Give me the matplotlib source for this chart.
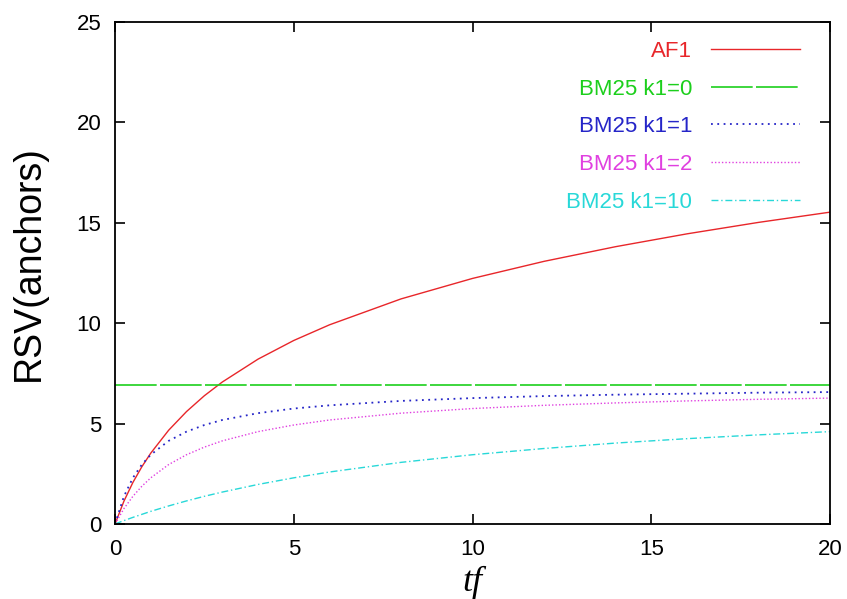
import numpy as np
import matplotlib
matplotlib.use("Agg")
import matplotlib.pyplot as plt

# term frequency samples and the RSV of each weighting function
tf = [0, 0.25, 0.5, 0.75, 1, 1.5, 2, 2.5, 3, 4, 5, 6, 8, 10, 12, 14, 16, 18, 20]
af1 = [0, 1.14, 2.07, 2.85, 3.53, 4.67, 5.60, 6.39, 7.07, 8.21, 9.14, 9.92,
       11.21, 12.23, 13.08, 13.81, 14.45, 15.02, 15.53]
bm25_k0 = [6.9] * len(tf)
bm25_k1 = [0, 1.38, 2.30, 2.96, 3.45, 4.14, 4.60, 4.93, 5.18, 5.52, 5.75, 5.91,
           6.13, 6.27, 6.37, 6.44, 6.49, 6.54, 6.57]
bm25_k2 = [0, 0.77, 1.38, 1.88, 2.30, 2.96, 3.45, 3.83, 4.14, 4.60, 4.93, 5.18,
           5.52, 5.75, 5.91, 6.03, 6.13, 6.21, 6.27]
bm25_k10 = [0, 0.17, 0.33, 0.48, 0.63, 0.90, 1.15, 1.38, 1.59, 1.97, 2.30, 2.59,
            3.07, 3.45, 3.76, 4.03, 4.25, 4.44, 4.60]

labels = ["AF1", "BM25 k1=0", "BM25 k1=1", "BM25 k1=2", "BM25 k1=10"]

plt.rcParams['font.family'] = ['Liberation Sans', 'DejaVu Sans']

fig = plt.figure(figsize=(8.47, 5.99), dpi=100)
ax = fig.add_axes([0.1358, 0.1252, 0.8442, 0.8381])

ax.plot(tf, af1, color="#e8262a", lw=1.0, ls="-", label=labels[0])
ax.plot(tf, bm25_k0, color="#1ccf1c", lw=1.2, ls=(0, (25, 2)), label=labels[1])
ax.plot(tf, bm25_k1, color="#2525c8", lw=1.3, ls=(0, (1, 2.5)), label=labels[2])
ax.plot(tf, bm25_k2, color="#e040e0", lw=1.0, ls=(0, (1, 1.5)), label=labels[3])
ax.plot(tf, bm25_k10, color="#28d8d8", lw=1.0, ls=(0, (5, 2, 1, 2)), label=labels[4])

ax.set_xlim(0, 20)
ax.set_ylim(0, 25)
ax.set_xticks([0, 5, 10, 15, 20])
ax.set_yticks([0, 5, 10, 15, 20, 25])
ax.tick_params(direction="in", length=7, width=1.2, top=True, right=True,
               labelsize=16)
ax.tick_params(axis="x", pad=11)
ax.tick_params(axis="y", pad=10)
for s in ax.spines.values():
    s.set_linewidth(1.3)

ax.set_ylabel("RSV(anchors)", fontsize=27)
ax.yaxis.set_label_coords(-0.096, 0.52)
ax.set_xlabel("tf", fontsize=26, style="italic", family="Liberation Serif",
              labelpad=4)

leg = ax.legend(loc="upper right", frameon=False, markerfirst=False,
                labelcolor="linecolor", fontsize=16, handlelength=4.0,
                handletextpad=0.85, labelspacing=0.75,
                bbox_to_anchor=(0.9706, 0.98), borderaxespad=0)
for t in leg.get_texts():
    t.set_ha("right")

fig.savefig("out.png", dpi=100)
